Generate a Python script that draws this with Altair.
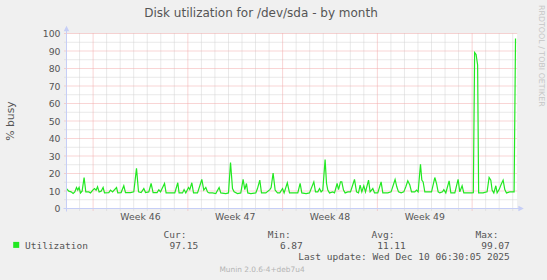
import altair as alt
import pandas as pd

# ---------------- data ----------------
title_text = "Disk utilization for /dev/sda - by month"
y_label = "% busy"
graph_start = "2025-11-07 00:50:00"   # left edge of the time axis (UTC)
graph_hours = 798.9                    # 33 days + ~7 h shown

# hours after graph_start, and % busy
hours = [0.0, 4.1, 8.2, 11.7, 14.7, 17.7, 20.0, 22.3, 24.8, 27.7, 31.2, 34.2, 39.5, 42.6,
         46.6, 49.6, 52.5, 55.0, 57.8, 61.4, 64.9, 67.4, 75.0, 78.0, 81.6, 88.7, 91.0, 96.8,
         101.6, 104.6, 113.5, 119.3, 124.1, 127.7, 132.3, 137.1, 140.1, 145.9, 150.0, 153.5,
         160.6, 163.7, 166.7, 173.8, 176.6, 184.4, 192.0, 197.3, 199.6, 205.7, 208.5, 211.5,
         216.3, 218.6, 222.2, 225.2, 232.3, 239.9, 243.4, 247.0, 250.0, 252.8, 258.9, 264.7,
         270.6, 273.6, 282.4, 287.2, 290.8, 294.3, 297.2, 303.2, 309.0, 313.1, 316.1, 319.1,
         321.4, 326.8, 335.6, 338.6, 342.7, 345.7, 353.4, 360.5, 362.8, 366.3, 369.9, 374.1,
         378.2, 383.0, 385.8, 391.5, 395.4, 404.2, 410.1, 414.2, 417.2, 424.8, 430.8, 438.5,
         441.5, 445.6, 448.6, 451.4, 454.4, 458.5, 461.0, 463.3, 466.3, 472.2, 475.2, 479.8,
         482.3, 485.8, 488.1, 491.1, 494.0, 498.7, 503.5, 510.6, 514.2, 517.7, 520.6, 523.6,
         527.1, 530.1, 535.5, 538.3, 543.1, 546.1, 551.9, 557.8, 560.8, 569.7, 575.5, 580.3,
         582.6, 585.6, 588.6, 593.3, 598.0, 601.6, 605.1, 608.7, 611.7, 617.5, 620.6, 623.4,
         627.6, 630.0, 632.3, 635.3, 647.2, 653.0, 656.0, 658.9, 661.9, 666.7, 669.0, 672.5,
         678.4, 681.4, 688.5, 694.3, 697.3, 701.4, 704.4, 718.1, 721.3, 723.6, 726.2, 728.9,
         730.7, 738.6, 745.7, 749.3, 752.3, 754.6, 757.6, 761.2, 763.5, 767.0, 771.3, 774.1,
         777.1, 780.1, 786.0, 793.6, 796.1]
busy = [11.4, 9.9, 9.5, 8.6, 9.5, 12.0, 10.5, 12.0, 8.9, 9.9, 17.7, 9.5, 9.5, 8.9,
        10.5, 11.4, 10.5, 12.4, 9.5, 9.9, 12.0, 8.9, 9.1, 10.5, 9.5, 12.0, 8.9, 9.1,
        13.0, 9.1, 9.1, 9.5, 22.9, 9.5, 9.1, 11.4, 9.1, 9.5, 14.3, 9.1,
        9.1, 10.7, 9.5, 14.3, 8.9, 8.9, 8.9, 14.7, 8.9, 8.9, 10.8, 8.9,
        12.0, 10.8, 14.7, 8.9, 8.9, 16.6, 10.5, 12.0, 9.5, 8.9, 8.9, 8.5,
        12.0, 8.9, 8.5, 8.9, 26.3, 11.4, 9.5, 8.5, 8.9, 16.6, 10.8, 14.3,
        8.9, 8.5, 8.9, 11.4, 16.2, 8.9, 8.9, 10.8, 12.0, 20.3, 10.5, 8.9,
        8.9, 11.4, 8.9, 14.7, 8.9, 8.9, 8.9, 14.3, 8.9, 8.5, 8.9, 15.2,
        9.5, 9.5, 11.4, 9.5, 10.5, 28.0, 14.3, 10.5, 8.9, 9.5, 8.9, 14.3,
        10.8, 15.2, 15.2, 10.5, 8.9, 9.5, 9.5, 16.6, 9.5, 8.9, 13.4, 9.5,
        13.0, 9.5, 16.2, 9.5, 11.4, 8.9, 8.9, 15.2, 8.9, 8.9, 9.5, 14.3,
        16.6, 12.4, 9.5, 8.9, 9.5, 12.4, 15.8, 13.4, 9.5, 9.5, 10.5, 9.5,
        25.3, 16.2, 15.2, 9.5, 9.5, 17.7, 14.3, 9.5, 8.9, 9.5, 10.8, 8.9,
        15.8, 8.9, 8.9, 16.6, 9.5, 13.0, 8.9, 8.9, 9.0, 89.1, 88.0, 82.0,
        8.9, 8.9, 9.5, 17.7, 16.2, 10.5, 8.9, 13.0, 8.9, 10.8, 14.3, 16.2,
        10.8, 8.9, 9.5, 9.5, 97.15]
assert len(hours) == len(busy)

y_ticks = [0, 10, 20, 30, 40, 50, 60, 70, 80, 90, 100]
y_minor = [5, 15, 25, 35, 45, 55, 65, 75, 85, 95]
week_starts = ["2025-11-09", "2025-11-16", "2025-11-23", "2025-11-30", "2025-12-07"]
week_labels = ["Week 46", "Week 47", "Week 48", "Week 49"]

series_name = "Utilization"
stat_names = ["Cur:", "Min:", "Avg:", "Max:"]
stat_values = ["97.15", "6.87", "11.11", "99.07"]
last_update = "Last update: Wed Dec 10 06:30:05 2025"
version_text = "Munin 2.0.6-4+deb7u4"
watermark = "RRDTOOL / TOBI OETIKER"

# ---------------- styling ----------------
W, H = 450.6, 175
OX, OY = 66.5, 33.5
BG = "#F0F0F0"
FONT_C = "#555555"
AXIS_C = "#C6CEF6"
GRID_C = "#D2D2D2"
MGRID_C = "#F2AAAA"
LINE_C = "#22E822"
SANS = "DejaVu Sans"
MONO = "DejaVu Sans Mono"

start = pd.Timestamp(graph_start)
end = start + pd.Timedelta(hours=graph_hours)


def iso(ts):
    return ts.strftime("%Y-%m-%dT%H:%M:%SZ")


df = pd.DataFrame({"t": [iso(start + pd.Timedelta(hours=h)) for h in hours], "v": busy})

days = pd.date_range(start.normalize() + pd.Timedelta(days=1), end, freq="D")
sundays = set(pd.to_datetime(week_starts))
minor_days = pd.DataFrame({"t": [iso(d) for d in days if d not in sundays]})
major_days = pd.DataFrame({"t": [iso(pd.Timestamp(d)) for d in week_starts]})
label_df = pd.DataFrame({
    "t": [iso(pd.Timestamp(d) + pd.Timedelta(hours=84)) for d in week_starts[:-1]],
    "label": week_labels,
})

xscale = alt.Scale(type="utc", domain=[
    alt.DateTime(year=start.year, month=start.month, date=start.day,
                 hours=start.hour, minutes=start.minute, utc=True),
    alt.DateTime(year=end.year, month=end.month, date=end.day,
                 hours=end.hour, minutes=end.minute, utc=True),
])
yscale = alt.Scale(domain=[0, 100], nice=False, zero=False)
yaxis = alt.Axis(values=y_ticks, grid=False, domain=False, ticks=False, tickSize=0,
                 labelPadding=6.5, labelFont=SANS, labelFontSize=9.3, labelColor=FONT_C,
                 title=None)


def X(field="t"):
    return alt.X(f"{field}:T", scale=xscale, axis=None)


def Y(field="v"):
    return alt.Y(f"{field}:Q", scale=yscale, axis=yaxis)


one = pd.DataFrame({"k": [0]})


def text(s, x, y, align="left", font=SANS, size=9.3, color=FONT_C, angle=0, baseline="alphabetic"):
    return alt.Chart(one).mark_text(
        text=s, align=align, baseline=baseline, font=font, fontSize=size,
        color=color, angle=angle,
    ).encode(x=alt.value(x - OX), y=alt.value(y - OY))


hminor = alt.Chart(pd.DataFrame({"v": y_minor})).mark_rule(
    color=GRID_C, strokeDash=[1, 1], strokeWidth=1
).encode(y=Y(), x=alt.value(-2), x2=alt.value(W))
hmajor = alt.Chart(pd.DataFrame({"v": y_ticks[1:]})).mark_rule(
    color=MGRID_C, strokeDash=[1, 1], strokeWidth=1
).encode(y=Y(), x=alt.value(-2), x2=alt.value(W))
vminor = alt.Chart(minor_days).mark_rule(
    color=GRID_C, strokeDash=[1, 1], strokeWidth=1
).encode(x=X(), y=alt.value(0), y2=alt.value(H + 2))
vmajor = alt.Chart(major_days).mark_rule(
    color=MGRID_C, strokeDash=[1, 1], strokeWidth=1
).encode(x=X(), y=alt.value(0), y2=alt.value(H + 2))

line = alt.Chart(df).mark_line(color=LINE_C, strokeWidth=1.2, interpolate="linear").encode(
    x=X(), y=Y()
)

xaxis_line = alt.Chart(one).mark_rule(color=AXIS_C, strokeWidth=1).encode(
    x=alt.value(-3), x2=alt.value(W + 3), y=alt.value(H))
yaxis_line = alt.Chart(one).mark_rule(color=AXIS_C, strokeWidth=1).encode(
    y=alt.value(H + 3), y2=alt.value(-3), x=alt.value(0))
arrow_up = alt.Chart(one).mark_point(
    shape="M -1 1 L 0 -1 L 1 1 Z", filled=True, size=30, color=AXIS_C, opacity=1, strokeWidth=0
).encode(x=alt.value(0), y=alt.value(-5))
arrow_right = alt.Chart(one).mark_point(
    shape="M -1 -1 L 1 0 L -1 1 Z", filled=True, size=30, color=AXIS_C, opacity=1, strokeWidth=0
).encode(x=alt.value(W + 4), y=alt.value(H))

week_text = alt.Chart(label_df).mark_text(
    font=SANS, fontSize=9.3, color=FONT_C, baseline="alphabetic", align="center"
).encode(x=X(), y=alt.value(219.5 - OY), text="label:N")

legend_box = alt.Chart(one).mark_square(size=36, color=LINE_C, opacity=1).encode(
    x=alt.value(16.2 - OX), y=alt.value(244.9 - OY))

layers = [hminor, vminor, hmajor, vmajor, line, xaxis_line, yaxis_line, arrow_up, arrow_right,
          week_text, legend_box,
          text(title_text, 261, 17.2, align="center", size=12),
          text(y_label, 11, 121, align="center", size=10.8, angle=270, baseline="middle"),
          text(watermark, 541, 5, align="left", size=7.9, color="#C6C6C6", angle=90,
               baseline="middle"),
          text(series_name, 25, 249.2, font=MONO, size=9.5),
          text(last_update, 509.8, 260.4, align="right", font=MONO, size=9.5),
          text(version_text, 262, 272.4, align="center", size=7.4, color="#B4B4B4")]

stat_left = [163.5, 267.8, 371.5, 475.5]
stat_right = [198.2, 302.8, 405.8, 509.8]
for nm, val, xl, xr in zip(stat_names, stat_values, stat_left, stat_right):
    layers.append(text(nm, xl, 237.5, font=MONO, size=9.5))
    layers.append(text(val, xr, 249.2, align="right", font=MONO, size=9.5))

chart = alt.layer(*layers).properties(
    width=W, height=H,
    autosize=alt.AutoSizeParams(type="none"),
    padding={"left": OX, "top": OY, "right": 547 - OX - W, "bottom": 280 - OY - H},
    background=BG,
).configure_view(stroke=None, fill="white")

chart.save("out.html", embed_options={"renderer": "svg", "actions": False})
